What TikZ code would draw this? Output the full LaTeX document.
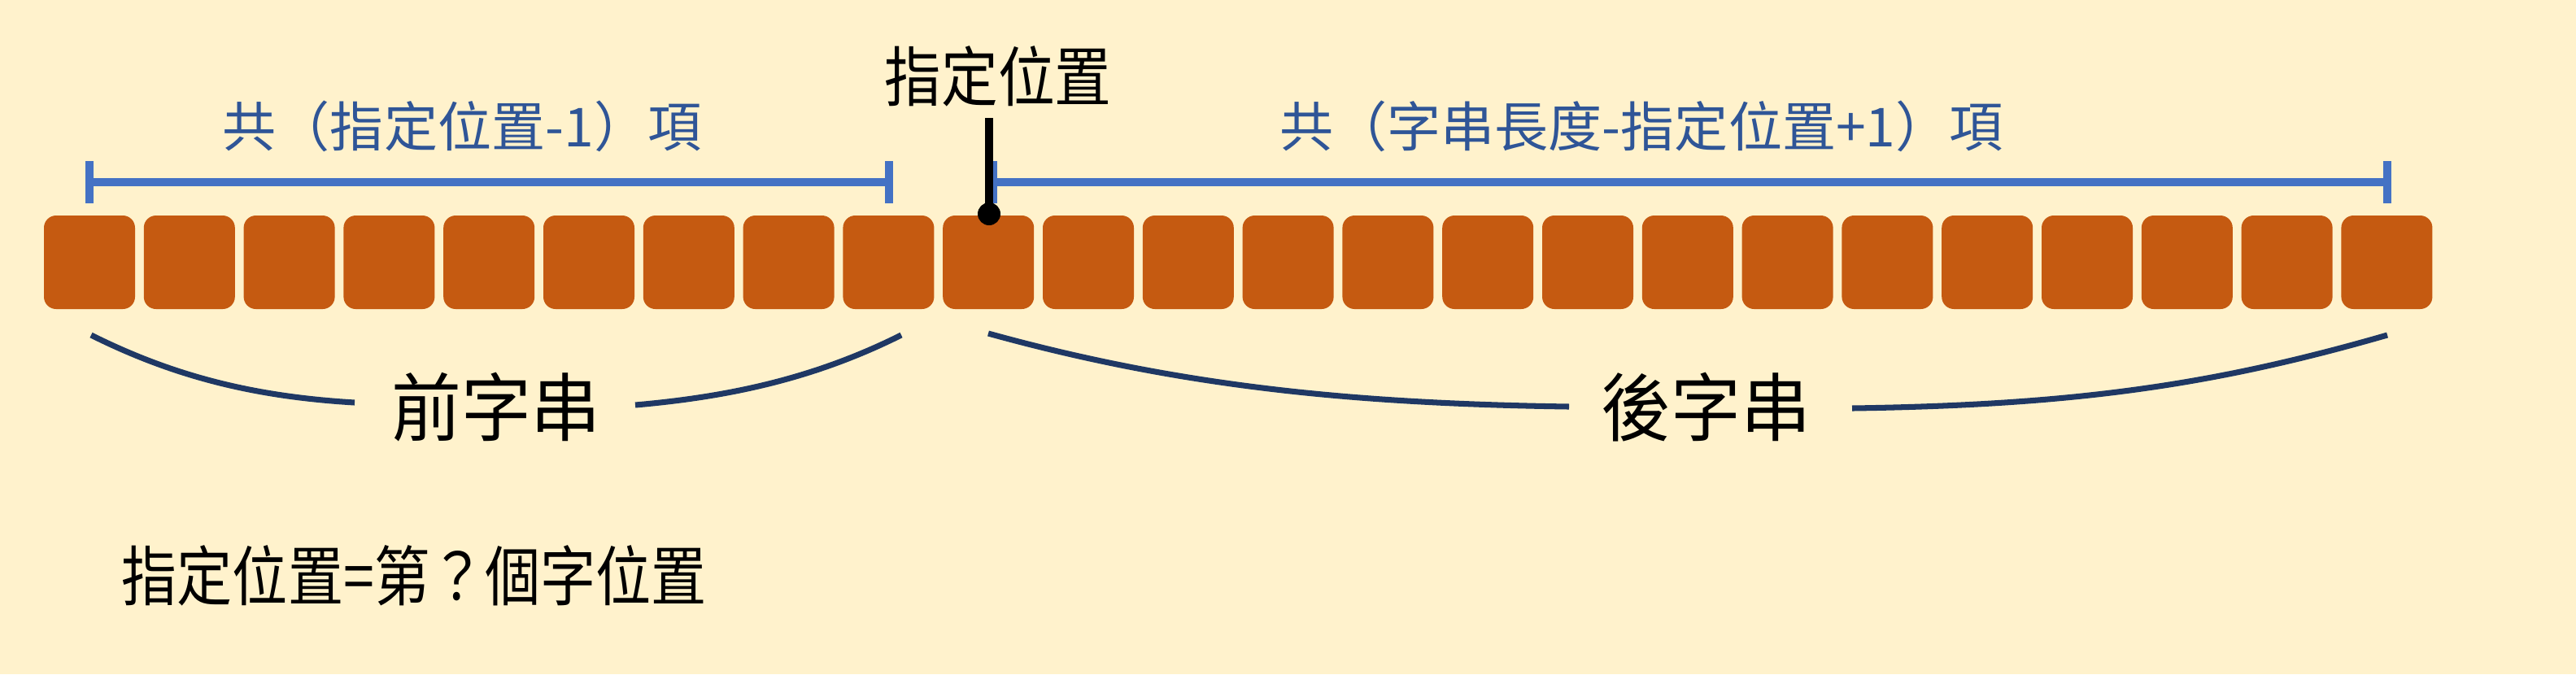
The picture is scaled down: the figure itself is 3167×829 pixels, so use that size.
\documentclass[tikz,border=0pt]{standalone}
\usepackage{fontspec}
\newfontfamily\cjk{Noto Sans CJK TC}
\definecolor{bgc}{HTML}{FFF2CC}
\definecolor{boxc}{HTML}{C55A11}
\definecolor{barc}{HTML}{4472C4}
\definecolor{bluetxt}{HTML}{2F5597}
\definecolor{navy}{HTML}{1F3864}
\tikzset{
  cell/.style={fill=boxc, rounded corners=0.15cm},
  bar/.style={draw=barc, line width=2.85pt},
  brace/.style={draw=navy, line width=2pt},
  bluelabel/.style={text=bluetxt, font=\cjk\fontsize{18.8pt}{20pt}\selectfont, inner sep=0pt},
  blacklabel/.style={text=black, font=\cjk\fontsize{22.8pt}{24pt}\selectfont, inner sep=0pt},
  biglabel/.style={text=black, font=\cjk\fontsize{26pt}{28pt}\selectfont, inner sep=0pt},
}
\begin{document}
\begin{tikzpicture}[x=0.01cm, y=-0.01cm]
\fill[bgc] (0,0) rectangle (3167,829);
\useasboundingbox (0,0) rectangle (3167,829);
% cells
\foreach \i in {0,...,23}{
  \path[cell] ({54+\i*122.8},265) rectangle ({166+\i*122.8},380);
}
% coordinates for bars
\coordinate (l1) at (110,224);
\coordinate (l2) at (1093,224);
\coordinate (r1) at (1221,224);
\coordinate (r2) at (2935,224);
\draw[bar] (l1) -- (l2);
\draw[bar] (110,198) -- (110,250);
\draw[bar] (1093,198) -- (1093,250);
\draw[bar] (r1) -- (r2);
\draw[bar] (1221,198) -- (1221,250);
\draw[bar] (2935,198) -- (2935,250);
% pointer
\coordinate (ptop) at (1216,145);
\coordinate (pdot) at (1216,263);
\draw[line width=2.85pt] (ptop) -- (pdot);
\fill (pdot) circle[radius=14];
\node[blacklabel, xscale=0.87] (pos) at (1227,94) {指定位置};
% blue labels
\node[bluelabel] (lt) at (568,155) {共（指定位置-1）項};
\node[bluelabel] (rt) at (2018,155) {共（字串長度-指定位置+1）項};
% braces
\node[biglabel, xscale=0.94] (pre) at (610,501) {前字串};
\node[biglabel, xscale=0.94] (post) at (2097,501) {後字串};
\coordinate (a1) at (112,412);
\coordinate (a2) at (436,495);
\coordinate (a3) at (781,498);
\coordinate (a4) at (1108,412);
\draw[brace] (a1) .. controls (220,466) and (320,488) .. (a2);
\draw[brace] (a3) .. controls (895,488) and (1000,466) .. (a4);
\coordinate (b1) at (1215,410);
\coordinate (b2) at (1929,500);
\coordinate (b3) at (2277,502);
\coordinate (b4) at (2935,412);
\draw[brace] (b1) .. controls (1450,475) and (1660,496) .. (b2);
\draw[brace] (b3) .. controls (2550,498) and (2720,474) .. (b4);
% bottom note
\node[blacklabel, xscale=0.85, anchor=west] (note) at (149,708) {指定位置=第？個字位置};
\end{tikzpicture}
\end{document}
